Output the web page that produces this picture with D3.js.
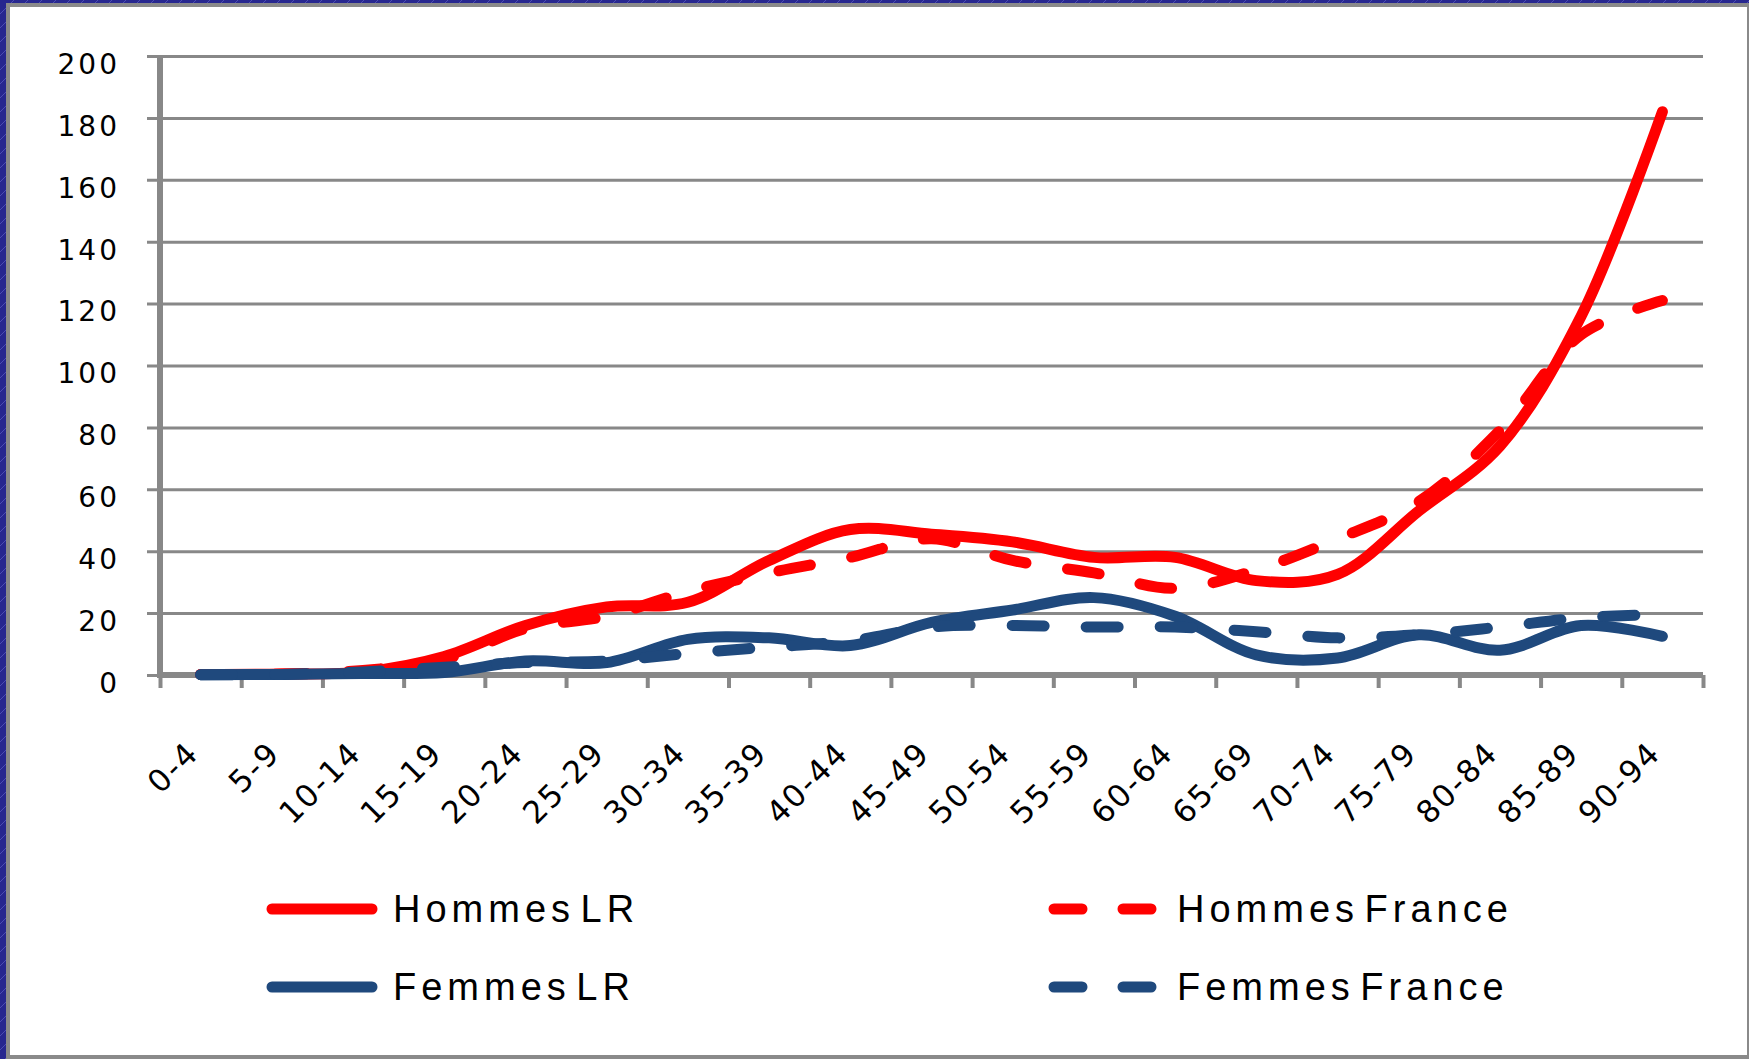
<!DOCTYPE html>
<html>
<head>
<meta charset="utf-8">
<script src="https://cdn.jsdelivr.net/npm/d3@7"></script>
<style>
  body { margin: 0; background: #27278f; }
  svg { display: block; }
</style>
</head>
<body>
<div id="chart"></div>
<script>
// age groups on the x axis
var ageGroups = ["0-4", "5-9", "10-14", "15-19", "20-24", "25-29", "30-34", "35-39", "40-44",
  "45-49", "50-54", "55-59", "60-64", "65-69", "70-74", "75-79", "80-84", "85-89", "90-94"];

// values
var hommesLR     = [0.2, 0.3, 1, 6, 16, 22, 23.5, 37, 47, 45.5, 43, 38, 38, 30.5, 32.5, 53, 74, 116, 182];
var hommesFrance = [0.2, 0.3, 1.5, 5, 15, 19, 27, 33, 38, 44, 37, 33, 28, 34, 44, 56, 79, 110, 121];
var femmesLR     = [0.1, 0.2, 0.5, 0.8, 4.5, 4, 11.5, 12, 9.5, 17, 21, 25, 19, 6.5, 5.5, 13, 8, 16, 12.5];
var femmesFrance = [0.1, 0.2, 1, 2.5, 4, 4.5, 7, 9, 11, 15.5, 16, 15.5, 15.5, 14, 12, 13, 15.5, 18.5, 19.5];

var yTicks = [0, 20, 40, 60, 80, 100, 120, 140, 160, 180, 200];

var seriesNames = ["Hommes LR", "Hommes France", "Femmes LR", "Femmes France"];

var W = 1749, H = 1059;
var red = "#ff0000", blue = "#1f497d", grey = "#888888";

var svg = d3.select("#chart")
  .append("svg")
    .attr("width", W)
    .attr("height", H);

// hatched blue background
var defs = svg.append("defs");
var pat = defs.append("pattern")
    .attr("id", "hatch")
    .attr("width", 14)
    .attr("height", 14)
    .attr("patternUnits", "userSpaceOnUse");
pat.append("rect").attr("width", 14).attr("height", 14).attr("fill", "#27278f");
pat.append("path").attr("d", "M0,14 L14,0").attr("stroke", "#4d4db3").attr("stroke-width", 1);

svg.append("rect").attr("width", W).attr("height", H).attr("fill", "url(#hatch)");

// white panel
svg.append("rect")
    .attr("x", 8).attr("y", 5)
    .attr("width", 1741).attr("height", 1052)
    .attr("fill", "#ffffff")
    .attr("stroke", "#8a8a8a")
    .attr("stroke-width", 4);

// scales
var x = d3.scaleBand()
  .domain(ageGroups)
  .range([160, 1703]);

var xEdge = d3.scaleLinear()
  .domain([0, ageGroups.length])
  .range([160, 1703]);

var y = d3.scaleLinear()
  .domain([0, 200])
  .range([675, 56]);

function cx(d) { return x(d) + x.bandwidth() / 2; }

// gridlines
var grid = svg.append("g")
  .attr("transform", "translate(147,0)")
  .call(d3.axisRight(y).tickValues(yTicks).tickSize(1556).tickFormat(""));
grid.select(".domain").remove();
grid.selectAll("line").attr("stroke", grey).attr("stroke-width", 3);

// y labels
var yAxis = svg.append("g")
  .attr("transform", "translate(160,0)")
  .call(d3.axisLeft(y).tickValues(yTicks).tickSize(0).tickPadding(40));
yAxis.select(".domain").remove();
yAxis.selectAll("text")
  .attr("dy", "0.62em")
  .style("font-family", "DejaVu Sans")
  .style("font-size", "28px")
  .style("letter-spacing", "3px")
  .attr("fill", "#000");

// x tick marks at band edges
var xTicks = svg.append("g")
  .attr("transform", "translate(0,675)")
  .call(d3.axisBottom(xEdge).tickValues(d3.range(ageGroups.length + 1)).tickSize(13).tickFormat(""));
xTicks.select(".domain").remove();
xTicks.selectAll("line").attr("stroke", grey).attr("stroke-width", 4);

// axis lines
svg.append("line")
  .attr("x1", 157).attr("x2", 1703)
  .attr("y1", y(0)).attr("y2", y(0))
  .attr("stroke", grey).attr("stroke-width", 6);
svg.append("line")
  .attr("x1", 160).attr("x2", 160)
  .attr("y1", y(200) - 1).attr("y2", y(0) + 3)
  .attr("stroke", grey).attr("stroke-width", 6);

// x labels, rotated
var xAxis = svg.append("g")
  .attr("transform", "translate(0,675)")
  .call(d3.axisBottom(x).tickSize(0).tickPadding(0));
xAxis.select(".domain").remove();
xAxis.selectAll("text")
  .attr("y", 0)
  .attr("dy", 0)
  .attr("text-anchor", "end")
  .attr("transform", "translate(0,80) rotate(-45)")
  .style("font-family", "DejaVu Sans")
  .style("font-size", "31px")
  .style("letter-spacing", "2px")
  .attr("fill", "#000");

// lines
var series = [
  {name: seriesNames[0], values: hommesLR, color: red, dash: null},
  {name: seriesNames[1], values: hommesFrance, color: red, dash: "32 42"},
  {name: seriesNames[2], values: femmesLR, color: blue, dash: null},
  {name: seriesNames[3], values: femmesFrance, color: blue, dash: "32 42"}
];

var line = d3.line()
  .x(function(d, i) { return cx(ageGroups[i]); })
  .y(function(d) { return y(d); })
  .curve(d3.curveCatmullRom.alpha(0.5));

svg.selectAll(".series")
  .data(series)
  .enter()
  .append("path")
    .attr("class", "series")
    .attr("d", function(d) { return line(d.values); })
    .attr("fill", "none")
    .attr("stroke", function(d) { return d.color; })
    .attr("stroke-width", 11)
    .attr("stroke-linecap", "round")
    .attr("stroke-linejoin", "round")
    .attr("stroke-dasharray", function(d) { return d.dash; });

// legend
var legendPos = [
  {x: 272, y: 909}, {x: 1054, y: 909},
  {x: 272, y: 987}, {x: 1054, y: 987}
];

var legend = svg.selectAll(".legend")
  .data(series)
  .enter()
  .append("g")
    .attr("class", "legend")
    .attr("transform", function(d, i) { return "translate(" + legendPos[i].x + "," + legendPos[i].y + ")"; });

legend.append("line")
  .attr("x1", 0).attr("x2", function(d) { return d.dash ? 102 : 100; })
  .attr("y1", 0).attr("y2", 0)
  .attr("stroke", function(d) { return d.color; })
  .attr("stroke-width", 11)
  .attr("stroke-linecap", "round")
  .attr("stroke-dasharray", function(d) { return d.dash ? "28 41" : null; });

legend.append("text")
  .attr("x", function(d) { return d.dash ? 123 : 121; })
  .attr("y", 13)
  .text(function(d) { return d.name; })
  .style("font-family", "Liberation Sans")
  .style("font-size", "38px")
  .style("letter-spacing", "5px")
  .style("word-spacing", "-10px")
  .attr("fill", "#000");
</script>
</body>
</html>
